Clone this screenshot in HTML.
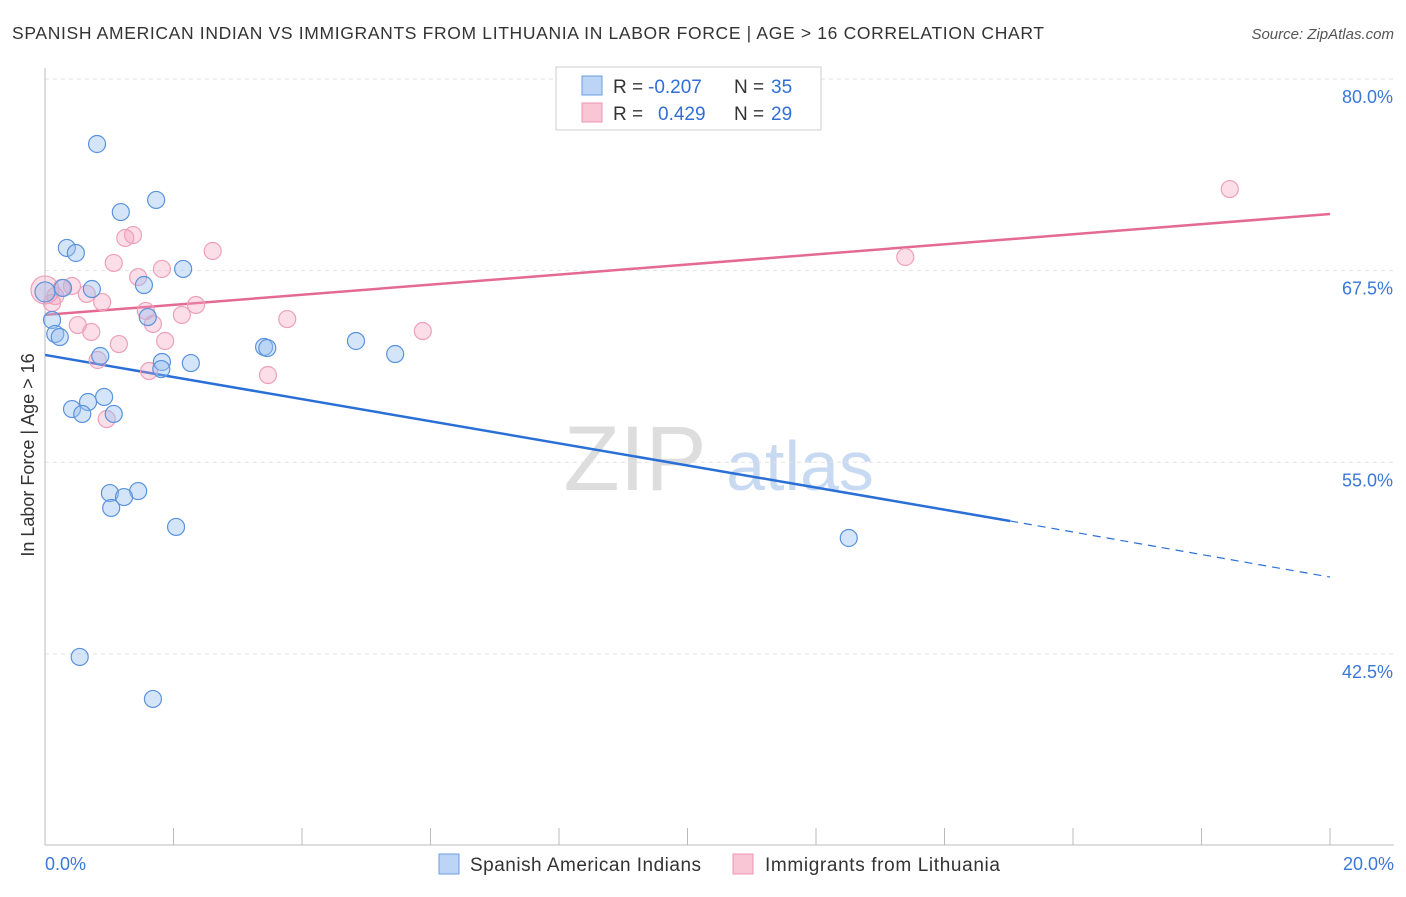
<!DOCTYPE html>
<html><head><meta charset="utf-8"><style>
body{margin:0;background:#fff;font-family:"Liberation Sans",sans-serif;}
svg text{font-family:"Liberation Sans",sans-serif;}
</style></head><body>
<svg id="chart" width="1406" height="892">
<text x="12" y="39" font-size="17.5" fill="#333" textLength="1032">SPANISH AMERICAN INDIAN VS IMMIGRANTS FROM LITHUANIA IN LABOR FORCE | AGE &gt; 16 CORRELATION CHART</text>
<text x="1394" y="39" font-size="15" fill="#555" font-style="italic" text-anchor="end">Source: ZipAtlas.com</text>
<g>
<text x="635" y="490" font-size="92" fill="#ddd" font-family="Liberation Serif,serif" text-anchor="middle">ZIP</text>
<text x="800" y="490" font-size="70" fill="#c8daf2" text-anchor="middle">atlas</text>
</g>
<g id="grid"></g><g id="axes"></g><g id="lines"></g><g id="pts"></g>
<text transform="translate(34,455) rotate(-90)" font-size="18" fill="#333" text-anchor="middle">In Labor Force | Age &gt; 16</text>
<g>
<rect x="556" y="67" width="265" height="63" fill="#fff" stroke="#ccc"/>
<rect x="582" y="76" width="20" height="19" fill="#bcd4f5" stroke="#6a9be0"/>
<rect x="582" y="103" width="20" height="19" fill="#f9c6d6" stroke="#ec94b0"/>
<text y="93" font-size="19" fill="#333"><tspan x="613">R =</tspan><tspan x="648" fill="#2f6fd6">-0.207</tspan><tspan x="734">N =</tspan><tspan x="771" fill="#2f6fd6">35</tspan></text>
<text y="120" font-size="19" fill="#333"><tspan x="613">R =</tspan><tspan x="658" fill="#2f6fd6">0.429</tspan><tspan x="734">N =</tspan><tspan x="771" fill="#2f6fd6">29</tspan></text>
</g>
<g>
<rect x="439" y="854" width="20" height="20" fill="#bcd4f5" stroke="#6a9be0"/>
<text x="470" y="871" font-size="19" fill="#333" textLength="231">Spanish American Indians</text>
<rect x="733" y="854" width="20" height="20" fill="#f9c6d6" stroke="#ec94b0"/>
<text x="765" y="871" font-size="19" fill="#333" textLength="235">Immigrants from Lithuania</text>
</g>
</svg>
<script>
const yTicks=[80,67.5,55,42.5];
const yTickLabels=["80.0%","67.5%","55.0%","42.5%"];
const blueX=[0.81,1.18,1.73,0.34,0.48,2.15,1.54,0.73,0.0,0.28,0.11,1.60,0.16,0.23,0.86,1.82,2.27,1.81,3.41,3.46,4.84,5.45,0.92,0.67,0.42,0.58,1.07,1.01,1.45,1.23,1.03,2.04,12.51,0.54,1.68];
const blueY=[75.76,71.32,72.11,68.98,68.65,67.61,66.56,66.30,66.11,66.37,64.28,64.47,63.37,63.17,61.93,61.54,61.47,61.08,62.52,62.45,62.91,62.06,59.26,58.93,58.47,58.15,58.15,52.99,53.12,52.73,52.02,50.78,50.06,42.30,39.56];
const pinkX=[18.44,13.39,2.61,1.37,1.25,1.07,1.82,1.45,0.42,0.26,0.16,0.65,0.89,1.57,2.35,2.13,1.68,3.77,0.51,0.72,5.88,1.87,1.15,0.82,1.62,3.47,0.96,0.0,0.11];
const pinkY=[72.82,68.39,68.78,69.82,69.63,68.00,67.61,67.08,66.50,66.37,65.84,65.98,65.45,64.87,65.26,64.61,64.02,64.34,63.95,63.50,63.56,62.91,62.71,61.67,60.95,60.69,57.82,66.24,65.39];
const pinkTrend=[64.61,71.19];
const blueTrend=[62.0,51.17,47.51];
const blueSolidEnd=15.02;
const sx=v=>45+v*64.25, sy=v=>79+(80-v)*15.33;
const NS="http://www.w3.org/2000/svg";
function mk(p,t,a){const e=document.createElementNS(NS,t);for(const k in a)e.setAttribute(k,a[k]);p.appendChild(e);return e;}
const grid=document.getElementById('grid'),axes=document.getElementById('axes'),lines=document.getElementById('lines'),pts=document.getElementById('pts');
yTicks.forEach((t,i)=>{
 const g=mk(grid,'line',{x1:45,x2:1394,y1:sy(t),y2:sy(t),stroke:'#e2e2e2','stroke-dasharray':'4,4'});
 
 
 const l=mk(axes,'text',{x:1393,y:sy(t)+24,'font-size':18,fill:'#3a78d8','text-anchor':'end'});l.textContent=yTickLabels[i];
 
 
});
mk(axes,'line',{x1:45,x2:45,y1:68,y2:845,stroke:'#bbb'});
mk(axes,'line',{x1:45,x2:1394,y1:845,y2:845,stroke:'#bbb'});
for(let i=0;i<=10;i++){const x=sx(i*2);const t=mk(axes,'line',{x1:x,x2:x,y1:828,y2:845,stroke:'#bbb'});
 
 }
const x0=mk(axes,'text',{x:45,y:870,'font-size':18,fill:'#3a78d8'});x0.textContent="0.0%";


const x1=mk(axes,'text',{x:1394,y:870,'font-size':18,fill:'#3a78d8','text-anchor':'end'});x1.textContent="20.0%";


pinkX.forEach((v,i)=>{const c=mk(pts,'circle',{cx:sx(v),cy:sy(pinkY[i]),r:(i==27?14:8.5),fill:'rgba(244,160,188,0.35)',stroke:'#eda0ba','stroke-width':1.2});
 
 });
blueX.forEach((v,i)=>{const c=mk(pts,'circle',{cx:sx(v),cy:sy(blueY[i]),r:(i==8?10:8.5),fill:'rgba(150,190,240,0.4)',stroke:'#5a93dc','stroke-width':1.2});
 
 });
const pl=mk(lines,'line',{x1:sx(0),y1:sy(pinkTrend[0]),x2:sx(20),y2:sy(pinkTrend[1]),stroke:'#e46a93','stroke-width':2.5});


const bl=mk(lines,'line',{x1:sx(0),y1:sy(blueTrend[0]),x2:sx(blueSolidEnd),y2:sy(blueTrend[1]),stroke:'#2a6fd6','stroke-width':2.5});


const bd=mk(lines,'line',{x1:sx(blueSolidEnd),y1:sy(blueTrend[1]),x2:sx(20),y2:sy(blueTrend[2]),stroke:'#2a6fd6','stroke-width':1.2,'stroke-dasharray':'8,6'});


</script>
</body></html>
